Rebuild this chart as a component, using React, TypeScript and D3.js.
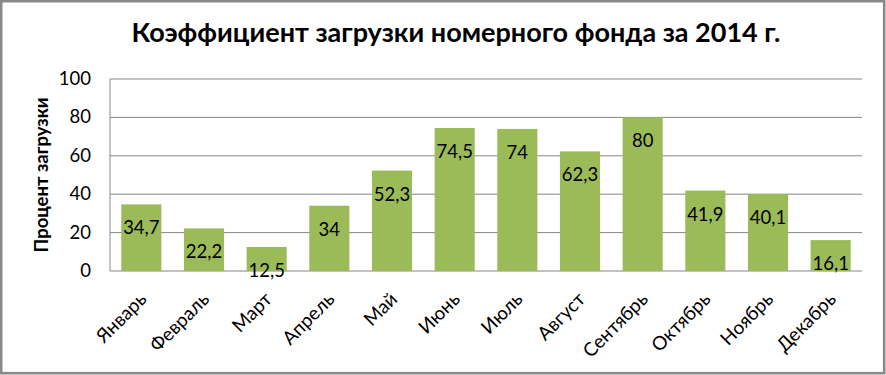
import * as d3 from 'd3';

const months = ['Январь', 'Февраль', 'Март', 'Апрель', 'Май', 'Июнь', 'Июль', 'Август', 'Сентябрь', 'Октябрь', 'Ноябрь', 'Декабрь'];
const occupancy = [34.7, 22.2, 12.5, 34, 52.3, 74.5, 74, 62.3, 80, 41.9, 40.1, 16.1];
const yTicks = [0, 20, 40, 60, 80, 100];

const W = 886;
const H = 375;
const margin = { top: 79, right: 24, bottom: 104, left: 110 };

export default function App() {
  const x = d3
    .scaleBand<string>()
    .domain(months)
    .range([margin.left, W - margin.right])
    .paddingInner(0.36)
    .paddingOuter(0.18);
  const y = d3.scaleLinear().domain([0, 100]).range([H - margin.bottom, margin.top]);
  const fmt = (v: number) => String(v).replace('.', ',');
  const font = 'Lato, "Open Sans", sans-serif';

  return (
    <svg width={W} height={H} style={{ position: 'absolute', left: 0, top: 0, background: '#fff' }} fontFamily={font}>
      <rect x={1.2} y={1.2} width={W - 3} height={H - 3} fill="#fff" stroke="#898989" strokeWidth={2.6} />

      {/* title */}
      <text x={456} y={42} textAnchor="middle" fontSize={27} fontWeight="bold" fill="#000">
        Коэффициент загрузки номерного фонда за 2014 г.
      </text>

      {/* grid */}
      {yTicks.map((t) => (
        <g key={t}>
          <line x1={margin.left} x2={W - margin.right} y1={y(t)} y2={y(t)} stroke="#868686" strokeWidth={1} />
          <text x={91} y={y(t) + 6} textAnchor="end" fontSize={18.5} fill="#000">
            {t}
          </text>
        </g>
      ))}
      <line x1={margin.left} x2={margin.left} y1={margin.top} y2={y(0)} stroke="#868686" strokeWidth={1} />

      {/* y title */}
      <text
        transform={`translate(48, ${(y(0) + y(100)) / 2}) rotate(-90)`}
        textAnchor="middle"
        fontSize={18.5}
        fontWeight="bold"
        fill="#000"
      >
        Процент загрузки
      </text>

      {/* bars */}
      {occupancy.map((v, i) => {
        const m = months[i];
        const bx = x(m) ?? 0;
        return (
          <g key={m}>
            <rect x={bx} y={y(v)} width={x.bandwidth()} height={y(0) - y(v)} fill="#9BBB59" />
            <text x={bx + x.bandwidth() / 2} y={y(v) + 30} textAnchor="middle" fontSize={18.5} fill="#000">
              {fmt(v)}
            </text>
          </g>
        );
      })}

      {/* x labels */}
      {months.map((m) => {
        const cx = (x(m) ?? 0) + x.bandwidth() / 2 - 3;
        return (
          <text
            key={m}
            transform={`translate(${cx}, ${y(0) + 20}) rotate(-45)`}
            textAnchor="end"
            dy="0.7em"
            fontSize={19}
            fill="#000"
          >
            {m}
          </text>
        );
      })}
    </svg>
  );
}
